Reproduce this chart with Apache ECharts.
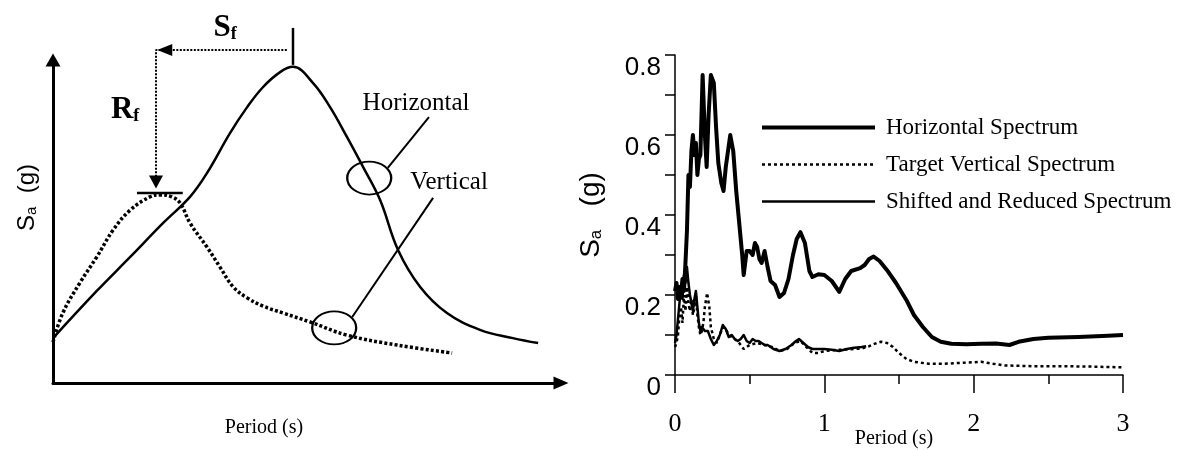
<!DOCTYPE html>
<html><head><meta charset="utf-8">
<script src="https://cdn.jsdelivr.net/npm/echarts@6/dist/echarts.min.js"></script>
<style>html,body{margin:0;padding:0;background:#fff}#c{width:1183px;height:450px}</style>
</head><body><div id="c"></div>
<script>
// ---------- Right panel: response spectra (period in s, Sa in g) ----------
const horizT = [0,0.01,0.02,0.03,0.04,0.05,0.06,0.07,0.08,0.09,0.10,0.11,0.12,0.13,0.14,0.15,0.16,0.17,0.185,0.20,0.212,0.225,0.24,0.26,0.275,0.29,0.31,0.325,0.34,0.37,0.39,0.41,0.43,0.45,0.46,0.48,0.50,0.52,0.535,0.55,0.565,0.58,0.60,0.62,0.64,0.67,0.70,0.73,0.76,0.79,0.815,0.84,0.87,0.90,0.92,0.96,1.00,1.05,1.10,1.14,1.18,1.24,1.27,1.30,1.33,1.37,1.42,1.48,1.55,1.60,1.66,1.72,1.78,1.85,1.95,2.05,2.15,2.24,2.30,2.40,2.50,2.70,2.90,3.00];
const horizSa = [0.21,0.23,0.19,0.22,0.20,0.24,0.21,0.28,0.36,0.50,0.47,0.56,0.60,0.55,0.58,0.50,0.54,0.55,0.75,0.60,0.52,0.65,0.75,0.73,0.62,0.53,0.48,0.46,0.52,0.60,0.56,0.46,0.38,0.30,0.25,0.31,0.31,0.30,0.33,0.32,0.29,0.28,0.31,0.27,0.235,0.225,0.195,0.205,0.24,0.30,0.34,0.357,0.33,0.26,0.245,0.252,0.25,0.235,0.208,0.24,0.26,0.267,0.275,0.29,0.296,0.285,0.262,0.23,0.187,0.15,0.12,0.095,0.083,0.078,0.077,0.078,0.079,0.075,0.083,0.090,0.093,0.095,0.098,0.10];

const targetT = [0,0.01,0.02,0.03,0.04,0.05,0.06,0.07,0.08,0.09,0.10,0.11,0.12,0.13,0.14,0.15,0.16,0.17,0.18,0.19,0.20,0.215,0.23,0.24,0.26,0.28,0.30,0.32,0.34,0.36,0.38,0.40,0.43,0.46,0.50,0.55,0.60,0.65,0.70,0.75,0.80,0.84,0.88,0.92,0.96,1.00,1.05,1.10,1.15,1.20,1.25,1.30,1.35,1.38,1.42,1.46,1.50,1.55,1.60,1.70,1.80,1.90,2.00,2.05,2.10,2.20,2.40,2.60,2.80,3.00];
const targetSa = [0.07,0.08,0.10,0.15,0.17,0.13,0.20,0.16,0.22,0.18,0.16,0.19,0.15,0.17,0.20,0.15,0.12,0.10,0.11,0.13,0.17,0.205,0.17,0.12,0.09,0.08,0.10,0.12,0.115,0.10,0.095,0.09,0.08,0.065,0.075,0.08,0.075,0.07,0.06,0.065,0.08,0.085,0.07,0.055,0.055,0.06,0.062,0.063,0.064,0.065,0.066,0.072,0.08,0.083,0.08,0.07,0.055,0.04,0.033,0.028,0.028,0.030,0.032,0.033,0.030,0.024,0.022,0.022,0.021,0.019];

const shiftedT = [0,0.01,0.02,0.03,0.04,0.05,0.06,0.07,0.08,0.09,0.10,0.11,0.12,0.13,0.14,0.15,0.16,0.17,0.18,0.20,0.22,0.24,0.26,0.28,0.30,0.32,0.34,0.36,0.38,0.40,0.42,0.44,0.46,0.48,0.50,0.52,0.54,0.56,0.58,0.60,0.62,0.66,0.70,0.74,0.78,0.81,0.83,0.86,0.89,0.92,0.96,1.00,1.05,1.10,1.15,1.20,1.25,1.28];
const shiftedSa = [0.08,0.10,0.14,0.18,0.22,0.19,0.25,0.23,0.27,0.23,0.20,0.18,0.16,0.19,0.21,0.17,0.13,0.11,0.12,0.11,0.11,0.09,0.075,0.085,0.10,0.125,0.115,0.095,0.10,0.09,0.085,0.09,0.10,0.085,0.08,0.09,0.085,0.085,0.08,0.075,0.075,0.065,0.06,0.065,0.075,0.085,0.09,0.08,0.07,0.065,0.065,0.065,0.063,0.06,0.065,0.068,0.07,0.072];

const seriesNames = ['Horizontal Spectrum','Target Vertical Spectrum','Shifted and Reduced Spectrum'];

// ---------- Left panel: schematic curves (arbitrary units) ----------
const schemHorizX = [0,0.85,1.50,2.14,2.66,2.99,3.44,3.77,4.08,4.41,4.66,5.05,5.38,5.71,6.02,6.35,6.70,7.13,7.65,8.29,8.93,9.42];
const schemHorizY = [1.36,2.79,3.82,4.85,5.64,6.36,7.58,8.36,8.97,9.42,9.58,9.09,8.36,7.45,6.55,5.55,4.03,2.91,2.12,1.61,1.36,1.21];
const schemVertX = [0,0.19,0.52,0.85,1.17,1.50,1.88,2.08,2.31,2.47,2.66,2.99,3.24,3.50,3.77,4.08,4.47,4.99,5.71,6.68,7.75];
const schemVertY = [1.24,2.12,3.03,3.82,4.64,5.24,5.64,5.70,5.64,5.45,4.85,4.12,3.52,2.91,2.58,2.33,2.12,1.85,1.45,1.15,0.91];

const zip = (a, b) => a.map((v, i) => [v, b[i]]);
const SERIF = '"Liberation Serif","Times New Roman",serif';
const SANS = '"Liberation Sans",Arial,Helvetica,sans-serif';
const K = '#000';

const saRich = (fs) => ({
  s: {fontFamily: SANS, fontSize: fs, color: K, lineHeight: fs},
  a: {fontFamily: SANS, fontSize: Math.round(fs * 0.62), color: K, lineHeight: 8, verticalAlign: 'bottom'}
});

const chart = echarts.init(document.getElementById('c'), null, {renderer: 'canvas'});
const thinLine = (w) => ({color: K, width: w});
const L2 = {xAxisIndex: 2, yAxisIndex: 2, silent: true, clip: false};

const option = {
  animation: false,
  backgroundColor: '#fff',
  grid: [
    {left: 675, top: 55, width: 448, height: 320, outerBoundsMode: 'none', containLabel: false},
    {left: 53, top: 60, width: 508, height: 323, outerBoundsMode: 'none', containLabel: false},
    {left: 53, top: 0, width: 508, height: 383, outerBoundsMode: 'none', containLabel: false}
  ],
  legend: {
    orient: 'vertical', left: 755, top: 111, itemWidth: 113, itemHeight: 14, itemGap: 14,
    data: [
      {name: seriesNames[0], lineStyle: {width: 4}},
      {name: seriesNames[1], lineStyle: {width: 2.5}},
      {name: seriesNames[2], lineStyle: {width: 2.5}}
    ],
    selectedMode: false,
    itemStyle: {opacity: 0},
    textStyle: {fontFamily: SERIF, fontSize: 23, color: K, lineHeight: 23, padding: [0, 0, 0, 6]}
  },
  xAxis: [
    {gridIndex: 0, type: 'value', min: 0, max: 3, interval: 1,
     name: 'Period (s)', nameLocation: 'middle', nameGap: 54, nameMoveOverlap: false,
     nameTextStyle: {fontFamily: SERIF, fontSize: 20, color: K, padding: [0, 10, 0, 0]},
     axisLine: {show: true, onZero: false, lineStyle: thinLine(1.5)},
     axisTick: {show: true, length: 18, lineStyle: thinLine(1.5)},
     minorTick: {show: true, splitNumber: 2, length: 9, lineStyle: thinLine(1.5)},
     splitLine: {show: false}, minorSplitLine: {show: false},
     axisLabel: {fontFamily: SERIF, fontSize: 26, color: K, margin: 36}},
    {gridIndex: 1, type: 'value', min: 0, max: 9.864,
     name: 'Period (s)', nameLocation: 'middle', nameGap: 35, nameMoveOverlap: false,
     nameTextStyle: {fontFamily: SERIF, fontSize: 20, color: K, padding: [0, 86, 0, 0]},
     axisLine: {show: true, onZero: false, symbol: ['none', 'triangle'], symbolSize: [13, 15], lineStyle: thinLine(3)},
     axisTick: {show: false}, axisLabel: {show: false}, splitLine: {show: false}},
    {gridIndex: 2, type: 'value', min: 0, max: 9.864, show: false}
  ],
  yAxis: [
    {gridIndex: 0, type: 'value', min: 0, max: 0.8, interval: 0.2,
     name: '{s|S}{a|a}{s|   (g)}', nameLocation: 'middle', nameGap: 70, nameMoveOverlap: false,
     nameTextStyle: {rich: saRich(28)},
     axisLine: {show: true, onZero: false, lineStyle: thinLine(1.5)},
     axisTick: {show: true, length: 10, lineStyle: thinLine(1.5)},
     minorTick: {show: true, splitNumber: 2, length: 10, lineStyle: thinLine(1.5)},
     splitLine: {show: false}, minorSplitLine: {show: false},
     axisLabel: {fontFamily: SANS, fontSize: 26, color: K, margin: 14, verticalAlign: 'top',
                 formatter: (v) => (v === 0 ? '0' : v.toFixed(1))}},
    {gridIndex: 1, type: 'value', min: 0, max: 9.79,
     name: '{s|S}{a|a}{s|  (g)}', nameLocation: 'middle', nameGap: 14, nameMoveOverlap: false,
     nameTextStyle: {rich: saRich(24), padding: [0, 0, 0, 48]},
     axisLine: {show: true, onZero: false, symbol: ['none', 'triangle'], symbolSize: [15, 13], lineStyle: thinLine(3)},
     axisTick: {show: false}, axisLabel: {show: false}, splitLine: {show: false}},
    {gridIndex: 2, type: 'value', min: 0, max: 11.606, show: false}
  ],
  series: [
    // right panel
    {type: 'line', name: seriesNames[0], xAxisIndex: 0, yAxisIndex: 0, data: zip(horizT, horizSa),
     symbol: 'none', lineStyle: {color: K, width: 4, join: 'round'}, itemStyle: {color: K}, silent: true},
    {type: 'line', name: seriesNames[1], xAxisIndex: 0, yAxisIndex: 0, data: zip(targetT, targetSa),
     symbol: 'none', lineStyle: {color: K, width: 2.5, type: [3, 3]}, itemStyle: {color: K}, silent: true},
    {type: 'line', name: seriesNames[2], xAxisIndex: 0, yAxisIndex: 0, data: zip(shiftedT, shiftedSa),
     symbol: 'none', lineStyle: {color: K, width: 2.5, join: 'round'}, itemStyle: {color: K}, silent: true},

    // left schematic curves
    Object.assign({type: 'line', data: zip(schemHorizX, schemHorizY), smooth: 0.4,
     symbol: 'none', lineStyle: {color: K, width: 2.5}}, L2),
    Object.assign({type: 'line', data: zip(schemVertX, schemVertY), smooth: 0.4,
     symbol: 'none', lineStyle: {color: K, width: 3.5, type: [3, 2.2]}}, L2),
    // peak marker of horizontal curve
    Object.assign({type: 'line', data: [[4.66, 9.64], [4.66, 10.76]],
     symbol: 'none', lineStyle: {color: K, width: 2.5}}, L2),
    // shift (Sf) and reduction (Rf) dotted guides
    Object.assign({type: 'line', data: [[4.54, 10.09], [2.0, 10.09], [2.0, 6.2]],
     symbol: 'none', lineStyle: {color: K, width: 2, type: [2, 1.5]}}, L2),
    // arrowheads
    Object.assign({type: 'scatter', symbol: 'triangle',
     itemStyle: {color: K, opacity: 1},
     data: [
       {value: [2.17, 10.09], symbolSize: [12, 15], symbolRotate: 90},
       {value: [2.0, 6.09], symbolSize: [14, 13], symbolRotate: 180}
     ]}, L2),
    // bar over vertical peak
    Object.assign({type: 'line', data: [[1.63, 5.76], [2.52, 5.76]],
     symbol: 'none', lineStyle: {color: K, width: 2.5}}, L2),
    // leader lines
    Object.assign({type: 'line', data: [[6.50, 6.52], [7.30, 8.06]],
     symbol: 'none', lineStyle: {color: K, width: 2}}, L2),
    Object.assign({type: 'line', data: [[5.81, 2.0], [7.38, 5.61]],
     symbol: 'none', lineStyle: {color: K, width: 2}}, L2),
    // ellipses
    Object.assign({type: 'scatter', data: [[6.14, 6.21], [5.46, 1.67]],
     symbol: 'circle', symbolSize: [44, 33],
     itemStyle: {color: 'rgba(0,0,0,0)', borderColor: K, borderWidth: 2, opacity: 1}}, L2),
    // text annotations
    Object.assign({type: 'scatter', symbolSize: 1,
     itemStyle: {color: 'rgba(0,0,0,0)', opacity: 1},
     label: {show: true, position: 'inside', color: K, fontFamily: SERIF, fontSize: 25,
       rich: {
         b: {fontFamily: SERIF, fontWeight: 'bold', fontSize: 31, color: K, lineHeight: 31},
         f: {fontFamily: SERIF, fontWeight: 'bold', fontSize: 18, color: K, lineHeight: 8, verticalAlign: 'bottom'}
       }},
     data: [
       {value: [7.05, 8.48], label: {formatter: 'Horizontal'}},
       {value: [7.69, 6.09], label: {formatter: 'Vertical'}},
       {value: [3.34, 10.76], label: {formatter: '{b|S}{f|f}'}},
       {value: [1.40, 8.27], label: {formatter: '{b|R}{f|f}'}}
     ]}, L2)
  ]
};
chart.setOption(option);
</script>
</body></html>
